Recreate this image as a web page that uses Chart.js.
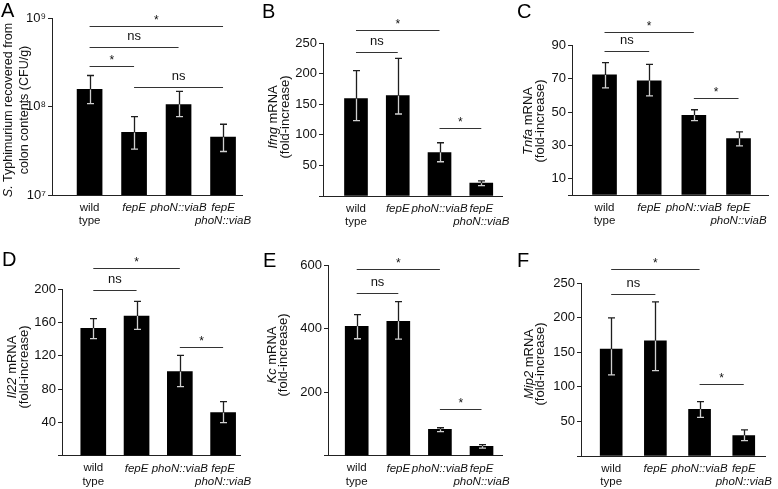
<!DOCTYPE html>
<html><head><meta charset="utf-8">
<script src="https://cdn.jsdelivr.net/npm/chart.js@4.4.1/dist/chart.umd.min.js"></script>
<style>
html,body{margin:0;padding:0;background:#fff;}
#fig{position:relative;width:778px;height:489px;overflow:hidden;background:#fff;}
#fig canvas{position:absolute;}
</style></head><body><div id="fig"></div>
<script>
// ---------- data ----------
const categories = [['wild', 'type'], 'fepE', 'phoN::viaB', ['fepE', 'phoN::viaB']];
const categoryItalic = [false, true, true, true];

// A: S. Typhimurium CFU/g (log scale)
const cfuMean  = [1.56e8, 5.1e7, 1.05e8, 4.5e7];
const cfuUpper = [2.24e8, 7.7e7, 1.48e8, 6.3e7];
const cfuLower = [1.08e8, 3.3e7, 7.7e7, 3.1e7];
const cfuTicks = [1e7, 1e8, 1e9];
const cfuTickLabels = ['10\u2077', '10\u2078', '10\u2079'];
const cfuSig = [[0, 3, 8.1e8, '*'], [0, 2, 4.7e8, 'ns'], [0, 1, 2.87e8, '*'], [1, 3, 1.64e8, 'ns']];
const cfuTitle = [[['S.', true], [' Typhimurium recovered from', false]], [['colon contents (CFU/g)', false]]];

// B: Ifng
const ifngMean  = [159, 164, 71, 21];
const ifngUpper = [205, 225, 87, 24.6];
const ifngLower = [123, 134, 56, 17];
const ifngTicks = [0, 50, 100, 150, 200, 250];
const ifngSig = [[0, 2, 272, '*'], [0, 1, 236, 'ns'], [2, 3, 111, '*']];
const ifngTitle = [[['Ifng', true], [' mRNA', false]], [['(fold-increase)', false]]];

// C: Tnfa
const tnfaMean  = [72.4, 68.8, 48, 34];
const tnfaUpper = [79.8, 78.8, 51.4, 38];
const tnfaLower = [64.6, 59.8, 44.8, 29.6];
const tnfaTicks = [0, 10, 30, 50, 70, 90];
const tnfaSig = [[0, 2, 98, '*'], [0, 1, 86.6, 'ns'], [2, 3, 58.2, '*']];
const tnfaTitle = [[['Tnfa', true], [' mRNA', false]], [['(fold-increase)', false]]];

// D: Il22
const il22Mean  = [152.8, 167.6, 100.8, 51.6];
const il22Upper = [164.4, 185.2, 120.4, 64.8];
const il22Lower = [140.4, 151.6, 82.8, 39.6];
const il22Ticks = [0, 40, 80, 120, 160, 200];
const il22Sig = [[0, 2, 225, '*'], [0, 1, 199, 'ns'], [2, 3, 130, '*']];
const il22Title = [[['Il22', true], [' mRNA', false]], [['(fold-increase)', false]]];

// E: Kc
const kcMean  = [407, 423, 83, 29.5];
const kcUpper = [444, 485, 88, 35];
const kcLower = [368, 367, 76, 24];
const kcTicks = [0, 200, 400, 600];
const kcSig = [[0, 2, 586, '*'], [0, 1, 511, 'ns'], [2, 3, 147, '*']];
const kcTitle = [[['Kc', true], [' mRNA', false]], [['(fold-increase)', false]]];

// F: Mip2
const mip2Mean  = [154.6, 166.7, 67.6, 29.5];
const mip2Upper = [200, 223, 78.7, 37.7];
const mip2Lower = [117.4, 123.7, 56, 22.2];
const mip2Ticks = [0, 50, 100, 150, 200, 250];
const mip2Sig = [[0, 2, 270, '*'], [0, 1, 235, 'ns'], [2, 3, 104, '*']];
const mip2Title = [[['Mip2', true], [' mRNA', false]], [['(fold-increase)', false]]];

// ---------- layout / style ----------
const SANS = "'Liberation Sans', Arial, Helvetica, sans-serif";
const NARROW = "'Liberation Sans Narrow', 'Arial Narrow', 'Liberation Sans', Arial, sans-serif";

const panels = [
  {letter: 'A', letterPos: [1, 17], canvas: [0, 0, 258, 240], area: [52, 18, 250, 195], xRange: [-0.845, 3.444], barWidth: 25,
   yType: 'logarithmic', yRange: [1e7, 1e9], mean: cfuMean, upper: cfuUpper, lower: cfuLower, ticks: cfuTicks, tickLabels: cfuTickLabels,
   sig: cfuSig, title: cfuTitle, titleCols: [9, 25], titleCy: 110, titleSize: 12.5},
  {letter: 'B', letterPos: [262, 18], canvas: [258, 0, 258, 240], area: [323, 43, 511, 196], xRange: [-0.79, 3.515], barWidth: 23,
   yType: 'linear', yRange: [0, 250], mean: ifngMean, upper: ifngUpper, lower: ifngLower, ticks: ifngTicks,
   sig: ifngSig, title: ifngTitle, titleCols: [273, 285], titleCy: 117, titleSize: 13},
  {letter: 'C', letterPos: [517, 18], canvas: [516, 0, 262, 240], area: [572, 45.7, 768, 195], xRange: [-0.728, 3.66], barWidth: 24,
   yType: 'linear', yRange: [0, 90], mean: tnfaMean, upper: tnfaUpper, lower: tnfaLower, ticks: tnfaTicks,
   sig: tnfaSig, title: tnfaTitle, titleCols: [528, 540], titleCy: 121, titleSize: 13},
  {letter: 'D', letterPos: [2, 266], canvas: [0, 240, 258, 249], area: [62, 289, 250, 455.7], xRange: [-0.723, 3.394], barWidth: 25,
   yType: 'linear', yRange: [0, 200], mean: il22Mean, upper: il22Upper, lower: il22Lower, ticks: il22Ticks,
   sig: il22Sig, title: il22Title, titleCols: [12, 24], titleCy: 367, titleSize: 13},
  {letter: 'E', letterPos: [263, 267], canvas: [258, 240, 258, 249], area: [328, 265, 513, 455.7], xRange: [-0.69, 3.5], barWidth: 23,
   yType: 'linear', yRange: [0, 600], mean: kcMean, upper: kcUpper, lower: kcLower, ticks: kcTicks,
   sig: kcSig, title: kcTitle, titleCols: [272, 283], titleCy: 355, titleSize: 13},
  {letter: 'F', letterPos: [517, 267], canvas: [516, 240, 262, 249], area: [581, 283.3, 777, 456], xRange: [-0.683, 3.502], barWidth: 22,
   yType: 'linear', yRange: [0, 250], mean: mip2Mean, upper: mip2Upper, lower: mip2Lower, ticks: mip2Ticks,
   sig: mip2Sig, title: mip2Title, titleCols: [529, 540], titleCy: 364, titleSize: 13}
];

function overlayPlugin(p) {
  const ox = p.canvas[0], oy = p.canvas[1];
  return {
    id: 'overlay' + p.letter,
    afterDatasetsDraw(chart) {
      const ctx = chart.ctx, xs = chart.scales.x, ys = chart.scales.y;
      ctx.save();
      ctx.lineWidth = 1.3;
      p.mean.forEach((m, i) => {
        const x = Math.round(xs.getPixelForValue(i)) + 0.5;
        const yb = ys.getPixelForValue(m);
        const yh = ys.getPixelForValue(p.upper[i]);
        const yl = ys.getPixelForValue(p.lower[i]);
        ctx.strokeStyle = '#1e1e1e';
        ctx.beginPath(); ctx.moveTo(x, yb); ctx.lineTo(x, yh);
        ctx.moveTo(x - 3.5, yh); ctx.lineTo(x + 3.5, yh); ctx.stroke();
        ctx.strokeStyle = '#cfcfcf';
        ctx.beginPath(); ctx.moveTo(x, yb); ctx.lineTo(x, yl);
        ctx.moveTo(x - 3.5, yl); ctx.lineTo(x + 3.5, yl); ctx.stroke();
      });
      ctx.restore();
    },
    afterDraw(chart) {
      const ctx = chart.ctx, xs = chart.scales.x, ys = chart.scales.y;
      ctx.save();
      // significance brackets
      p.sig.forEach(([a, b, lvl, lab]) => {
        const x1 = xs.getPixelForValue(a), x2 = xs.getPixelForValue(b);
        const y = Math.round(ys.getPixelForValue(lvl)) + 0.5;
        ctx.strokeStyle = '#333';
        ctx.lineWidth = 1;
        ctx.beginPath(); ctx.moveTo(x1, y); ctx.lineTo(x2, y); ctx.stroke();
        ctx.fillStyle = '#111';
        ctx.textAlign = 'center';
        ctx.textBaseline = 'alphabetic';
        if (lab === '*') {
          ctx.font = '12px ' + SANS;
          ctx.fillText(lab, (x1 + x2) / 2, y - 3);
        } else {
          ctx.font = '13px ' + SANS;
          ctx.fillText(lab, (x1 + x2) / 2, y - 8);
        }
      });
      // y-axis title (rotated, mixed italics)
      p.title.forEach((line, j) => {
        ctx.save();
        ctx.translate(p.titleCols[j] - ox, p.titleCy - oy);
        ctx.rotate(-Math.PI / 2);
        ctx.textBaseline = 'middle';
        ctx.textAlign = 'left';
        ctx.fillStyle = '#111';
        let total = 0;
        const widths = line.map(([t, it]) => {
          ctx.font = (it ? 'italic ' : '') + p.titleSize + 'px ' + SANS;
          const w = ctx.measureText(t).width; total += w; return w;
        });
        let x = -total / 2;
        line.forEach(([t, it], k) => {
          ctx.font = (it ? 'italic ' : '') + p.titleSize + 'px ' + SANS;
          ctx.fillText(t, x, 0);
          x += widths[k];
        });
        ctx.restore();
      });
      // panel letter
      ctx.font = '20px ' + SANS;
      ctx.fillStyle = '#000';
      ctx.textAlign = 'left';
      ctx.textBaseline = 'alphabetic';
      ctx.fillText(p.letter, p.letterPos[0] - ox, p.letterPos[1] - oy);
      ctx.restore();
    }
  };
}

const fig = document.getElementById('fig');
panels.forEach(p => {
  const [cx, cy, cw, ch] = p.canvas;
  const [l, t, r, b] = p.area;
  const cv = document.createElement('canvas');
  cv.width = cw; cv.height = ch;
  cv.style.left = cx + 'px'; cv.style.top = cy + 'px';
  cv.style.width = cw + 'px'; cv.style.height = ch + 'px';
  fig.appendChild(cv);
  new Chart(cv.getContext('2d'), {
    type: 'bar',
    data: {
      datasets: [{
        data: p.mean.map((v, i) => ({x: i, y: v})),
        backgroundColor: '#000',
        borderWidth: 0,
        barThickness: p.barWidth
      }]
    },
    options: {
      responsive: false,
      animation: false,
      devicePixelRatio: 1,
      layout: {padding: {left: 0, top: t - cy, right: cx + cw - r, bottom: 0}},
      plugins: {legend: {display: false}, tooltip: {enabled: false}, title: {display: false}},
      scales: {
        x: {
          type: 'linear', offset: false, bounds: 'data',
          min: p.xRange[0], max: p.xRange[1],
          grid: {display: false, drawTicks: false, offset: false},
          border: {display: true, color: '#222', width: 1},
          afterBuildTicks: s => { s.ticks = categories.map((_, i) => ({value: i})); },
          afterFit: s => { s.height = cy + ch - b; },
          ticks: {
            autoSkip: false, maxRotation: 0, padding: 6, color: '#111',
            font: c => ({family: NARROW, size: 11.5, style: categoryItalic[c.index] ? 'italic' : 'normal', lineHeight: 1.15}),
            callback: v => categories[v]
          }
        },
        y: {
          type: p.yType, bounds: 'data',
          min: p.yRange[0], max: p.yRange[1],
          grid: {display: true, drawOnChartArea: false, drawTicks: true, tickLength: 4, color: '#222', lineWidth: 1},
          border: {display: true, color: '#222', width: 1},
          afterBuildTicks: s => { s.ticks = p.ticks.map(v => ({value: v})); },
          afterFit: s => { s.width = l - cx; },
          ticks: {
            padding: 2, color: '#111', autoSkip: false,
            font: {family: SANS, size: 13},
            callback: (v, i) => p.tickLabels ? p.tickLabels[i] : (v === 0 ? '' : String(v))
          }
        }
      }
    },
    plugins: [overlayPlugin(p)]
  });
});
</script>
</body></html>
